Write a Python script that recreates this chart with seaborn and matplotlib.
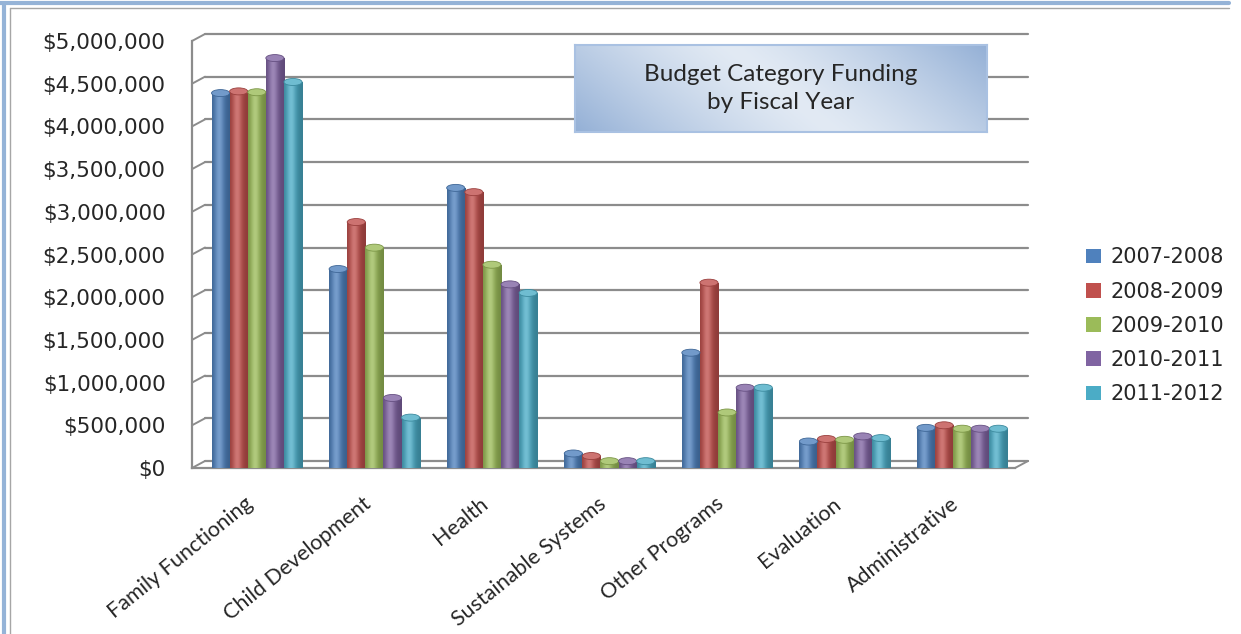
import numpy as np
import pandas as pd
import matplotlib
matplotlib.use("Agg")
import matplotlib.pyplot as plt
import matplotlib.transforms as mtransforms
from matplotlib.colors import to_rgb
from matplotlib.patches import Patch, Ellipse
from matplotlib.lines import Line2D
import seaborn as sns

# Budget categories and fiscal years
categories = ["Family Functioning", "Child Development", "Health",
              "Sustainable Systems", "Other Programs", "Evaluation", "Administrative"]
years = ["2007-2008", "2008-2009", "2009-2010", "2010-2011", "2011-2012"]

# Funding per category, one list per fiscal year
fy_2007_2008 = [4390000, 2330000, 3280000, 170000, 1350000, 310000, 470000]
fy_2008_2009 = [4410000, 2880000, 3230000, 140000, 2170000, 340000, 500000]
fy_2009_2010 = [4400000, 2580000, 2380000, 80000, 650000, 330000, 460000]
fy_2010_2011 = [4800000, 820000, 2150000, 80000, 940000, 370000, 460000]
fy_2011_2012 = [4520000, 590000, 2050000, 80000, 940000, 350000, 460000]

y_ticks = np.arange(0, 5000001, 500000)
colors = ["#4F81BD", "#C0504D", "#9BBB59", "#8064A2", "#4BACC6"]
GRID = "#8C8C8C"

rows = []
for year, vals in zip(years, [fy_2007_2008, fy_2008_2009, fy_2009_2010,
                              fy_2010_2011, fy_2011_2012]):
    for cat, v in zip(categories, vals):
        rows.append({"category": cat, "year": year, "amount": v})
df = pd.DataFrame(rows)

sns.set_style("white")
plt.rcParams["font.family"] = ["DejaVu Sans"]

W, H = 1241, 634
fig = plt.figure(figsize=(W / 100, H / 100), dpi=100)
ax = fig.add_axes([192 / W, 1 - 468 / H, 823 / W, 427 / H])


def px(dx, dy):
    # offset in screen pixels, used for the fake 3D depth
    return mtransforms.ScaledTranslation(dx / 100, dy / 100, fig.dpi_scale_trans)


sns.barplot(data=df, x="category", y="amount", hue="year", order=categories,
            hue_order=years, palette=colors, width=0.77, gap=0, saturation=1,
            linewidth=0, legend=False, ax=ax, zorder=3)

ax.set_xlim(-0.5, len(categories) - 0.5)
ax.set_ylim(0, 5000000)

# cylinder-like shading on each bar
bar_tf = ax.transData + px(6, 0)
t = np.linspace(0, 1, 64)
s = np.exp(-((t - 0.38) / 0.32) ** 2)
cap_h = 7 * 5000000 / 427
for cont in ax.containers:
    for bar in cont:
        x0, w, h = bar.get_x(), bar.get_width(), bar.get_height()
        base = np.array(to_rgb(bar.get_facecolor()))
        shade = base[None, :] * (0.74 + 0.26 * s[:, None]) + (1 - base[None, :]) * 0.22 * s[:, None] ** 2
        bar.set_transform(bar_tf)
        img = ax.imshow(shade[None, :, :], extent=[x0, x0 + w, 0, h], aspect="auto",
                        transform=bar_tf, zorder=3.5, interpolation="bilinear")
        img.set_clip_path(bar)
        cap = base * 0.8 + 0.2
        ax.add_patch(Ellipse((x0 + w / 2, h), w, cap_h, transform=bar_tf,
                             facecolor=cap, edgecolor=base * 0.8, lw=0.6, zorder=4))

ax.set_xlim(-0.5, len(categories) - 0.5)
ax.set_ylim(0, 5000000)
ax.set_aspect("auto")

# back wall gridlines
back = px(13, 7)
for v in y_ticks:
    ax.plot([0, 1], [v, v], transform=ax.get_yaxis_transform() + back,
            color=GRID, lw=1.6, zorder=1, clip_on=False)
    p = ax.get_yaxis_transform().transform((0, v))
    fig.add_artist(Line2D([p[0], p[0] + 13], [p[1], p[1] + 7],
                          transform=mtransforms.IdentityTransform(), color=GRID, lw=1.4))
p = ax.transAxes.transform((1, 0))
fig.add_artist(Line2D([p[0], p[0] + 13], [p[1], p[1] + 7],
                      transform=mtransforms.IdentityTransform(), color=GRID, lw=1.4))

# axes styling
for side in ["top", "right"]:
    ax.spines[side].set_visible(False)
for side in ["left", "bottom"]:
    ax.spines[side].set_color(GRID)
    ax.spines[side].set_linewidth(1.6)

ax.set_yticks(y_ticks)
ax.set_yticklabels(["${:,.0f}".format(v) for v in y_ticks])
ax.tick_params(axis="y", length=7, width=1.4, color=GRID, pad=12,
               labelsize=15.5, labelcolor="#262626")

ax.set_xticks(np.arange(len(categories)))
ax.set_xticklabels(categories, rotation=39, ha="right", va="center",
                   rotation_mode="anchor", fontfamily="Lato", fontsize=15.5)
ax.set_xticks(np.arange(len(categories) + 1) - 0.5, minor=True)
ax.tick_params(axis="x", which="major", length=0, pad=24)
ax.tick_params(axis="x", which="minor", length=8, width=1.4, color=GRID, direction="out")
ax.set_xlabel("")
ax.set_ylabel("")
ax.grid(False)

# legend
handles = [Patch(facecolor=c, edgecolor="none", label=y) for c, y in zip(colors, years)]
fig.legend(handles=handles, loc="upper left", bbox_to_anchor=(1076 / W, 1 - 237 / H),
           frameon=False, fontsize=15, handlelength=0.7, handleheight=0.7,
           handletextpad=0.45, labelspacing=0.68, borderpad=0)

# title box with gradient
tax = fig.add_axes([575 / W, 1 - 132 / H, 412 / W, 87 / H], zorder=5)
gx, gy = np.meshgrid(np.linspace(0, 1, 200), np.linspace(0, 1, 60))
u = (gx * 0.8 + (1 - gy) * 0.2)
d = np.clip(np.abs(u - 0.5) * 2, 0, 1) ** 1.3
light, dark = np.array(to_rgb("#E2EAF4")), np.array(to_rgb("#94B0D6"))
grad = light[None, None, :] * (1 - d[..., None]) + dark[None, None, :] * d[..., None]
tax.imshow(grad, extent=[0, 1, 0, 1], aspect="auto", origin="upper")
tax.set_xticks([])
tax.set_yticks([])
for sp in tax.spines.values():
    sp.set_color("#A9C1E2")
    sp.set_linewidth(1.5)
tax.text(0.5, 0.5, "Budget Category Funding\nby Fiscal Year", ha="center", va="center",
         fontsize=17.5, fontfamily="Lato", linespacing=1.45, transform=tax.transAxes)

# outer frame of the chart area
fig.add_artist(Line2D([0, W - 12], [H - 3, H - 3], transform=mtransforms.IdentityTransform(),
                      color="#95B3D7", lw=3))
fig.add_artist(Line2D([4, 4], [0, H - 3], transform=mtransforms.IdentityTransform(),
                      color="#95B3D7", lw=3))
fig.add_artist(Line2D([10, W - 12], [H - 8, H - 8], transform=mtransforms.IdentityTransform(),
                      color="#A6A6A6", lw=1))
fig.add_artist(Line2D([10, 10], [0, H - 8], transform=mtransforms.IdentityTransform(),
                      color="#A6A6A6", lw=1))

fig.savefig("out.png", dpi=100)
